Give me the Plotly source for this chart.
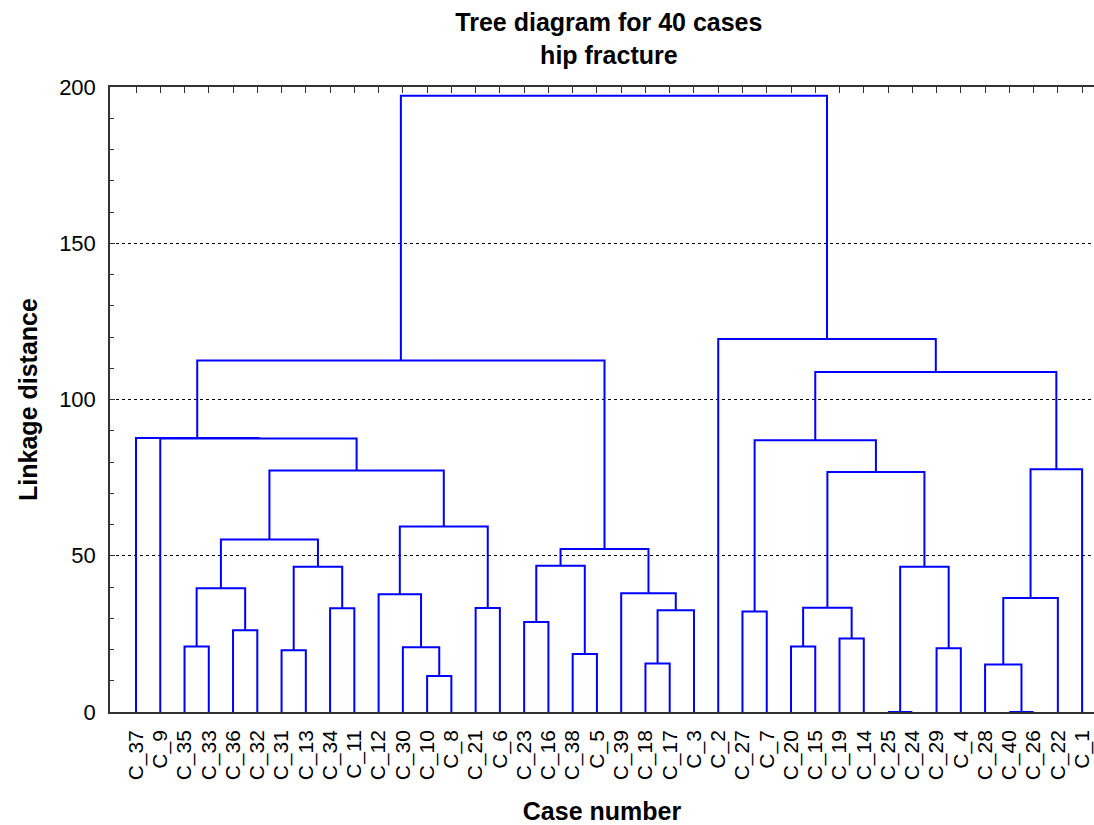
import plotly.graph_objects as go

# ---- data -------------------------------------------------------------
leaf_labels = ["C_37", "C_9", "C_35", "C_33", "C_36", "C_32", "C_31", "C_13", "C_34", "C_11",
               "C_12", "C_30", "C_10", "C_8", "C_21", "C_6", "C_23", "C_16", "C_38", "C_5",
               "C_39", "C_18", "C_17", "C_3", "C_2", "C_27", "C_7", "C_20", "C_15", "C_19",
               "C_14", "C_25", "C_24", "C_29", "C_4", "C_28", "C_40", "C_26", "C_22", "C_1"]

merge_names = ["K1", "K2", "K3", "K4", "K5", "K6", "K7", "K8", "K9", "K10",
               "K11", "K12", "K13", "K14", "K15", "K16", "K17", "K18", "K19", "K20",
               "K21", "K22", "K23", "K24", "K25", "K26", "K27", "K28", "K29", "K30",
               "K31", "K32", "K33", "K34", "K35", "K36", "K37", "K38", "K39"]
merge_left = ["C_35", "C_36", "K1", "C_31", "C_34", "K4", "K3", "C_10", "C_30", "C_12",
              "C_21", "K10", "K7", "C_9", "C_37", "C_23", "C_38", "K16", "C_18", "K19",
              "C_39", "K18", "K15", "C_27", "C_20", "C_19", "K25", "C_25", "C_29", "K28",
              "K27", "K24", "C_40", "C_28", "K34", "K35", "K32", "C_2", "K23"]
merge_right = ["C_33", "C_32", "K2", "C_13", "C_11", "K5", "K6", "C_8", "K8", "K9",
               "C_6", "K11", "K12", "K13", "K14", "C_16", "C_5", "K17", "C_17", "C_3",
               "K20", "K21", "K22", "C_7", "C_15", "C_14", "K26", "C_24", "C_4", "K29",
               "K30", "K31", "C_26", "K33", "C_22", "C_1", "K36", "K37", "K38"]
merge_height = [21.0, 26.2, 39.6, 19.8, 33.2, 46.5, 55.2, 11.5, 20.7, 37.7,
                33.3, 59.4, 77.3, 87.5, 87.7, 28.8, 18.6, 46.8, 15.5, 32.6,
                38.0, 52.2, 112.5, 32.2, 21.0, 23.5, 33.4, 0.0, 20.4, 46.5,
                76.8, 87.0, 0.0, 15.2, 36.5, 77.7, 108.8, 119.4, 197.2]

title_lines = ["Tree diagram for 40 cases", "hip fracture"]
y_ticks = [0, 50, 100, 150, 200]

# ---- build dendrogram paths from the merge table -----------------------
pos = {lab: i for i, lab in enumerate(leaf_labels)}
hgt = {lab: 0.0 for lab in leaf_labels}
xs, ys = [], []
for name, l, r, h in zip(merge_names, merge_left, merge_right, merge_height):
    xl, xr = pos[l], pos[r]
    xs += [xl, xl, xr, xr, None]
    ys += [hgt[l], h, h, hgt[r], None]
    pos[name] = (xl + xr) / 2.0
    hgt[name] = h

FONT = "Liberation Sans, Arial, sans-serif"
n = len(leaf_labels)
xrange_ = [-1.072, 39.49]

fig = go.Figure()
fig.add_trace(go.Scatter(x=xs, y=ys, mode="lines",
                         line=dict(color="#0000ff", width=2),
                         hoverinfo="skip", showlegend=False))
fig.add_trace(go.Scatter(x=[None], y=[None], xaxis="x2", showlegend=False,
                         hoverinfo="skip"))

fig.update_layout(
    width=1094, height=825,
    margin=dict(l=110, r=0, t=87, b=113),
    plot_bgcolor="white", paper_bgcolor="white",
    font=dict(family=FONT, color="black"),
    title=dict(text="<b>" + "<br>".join(title_lines) + "</b>",
               x=0.507, xref="paper", xanchor="center",
               y=0.962, yref="container", yanchor="top",
               font=dict(size=25, family=FONT, color="black")),
    xaxis=dict(range=xrange_, tickmode="array", tickvals=list(range(n)),
               ticktext=leaf_labels, tickangle=-90, ticks="",
               showline=True, linecolor="#333333", linewidth=1.5,
               showgrid=False, zeroline=False,
               tickfont=dict(size=21, family=FONT, color="black"),
               ticklabelstandoff=8,
               title=dict(text="<b>Case number</b>",
                          font=dict(size=25, family=FONT, color="black"),
                          standoff=24)),
    xaxis2=dict(range=xrange_, overlaying="x", side="top", anchor="y",
                tickmode="array", tickvals=list(range(n)), showticklabels=False,
                ticks="inside", ticklen=6, tickcolor="#333333", tickwidth=1,
                showline=True, linecolor="#333333", linewidth=1.5,
                showgrid=False, zeroline=False),
    yaxis=dict(range=[0, 200], tickmode="array", tickvals=y_ticks,
               ticks="inside", ticklen=5, tickcolor="#333333",
               minor=dict(dtick=10, ticks="inside", ticklen=4, tickcolor="#333333",
                          showgrid=False),
               showline=True, linecolor="#333333", linewidth=1.5,
               showgrid=True, gridcolor="black", griddash="dot", gridwidth=1,
               zeroline=False,
               tickfont=dict(size=22, family=FONT, color="black"),
               ticklabelstandoff=8,
               title=dict(text="<b>Linkage distance</b>",
                          font=dict(size=25, family=FONT, color="black"),
                          standoff=14)),
)

fig.write_html("out.html",
               config={"displayModeBar": False},
               post_script="document.body.style.margin='0';"
                           "document.body.style.overflow='hidden';")
